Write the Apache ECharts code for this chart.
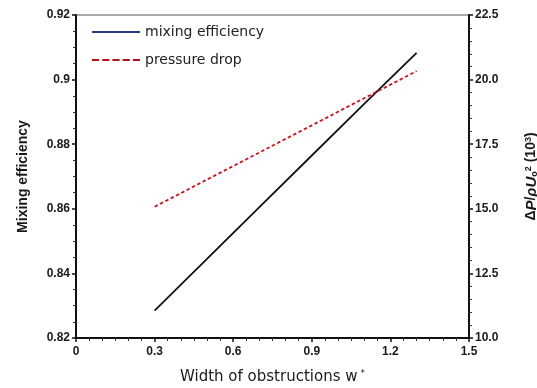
<!DOCTYPE html>
<html>
<head>
<meta charset="utf-8">
<script src="https://cdn.jsdelivr.net/npm/echarts@6/dist/echarts.min.js"></script>
<style>
  html, body { margin: 0; padding: 0; background: #fff; }
  #chart { width: 537px; height: 388px; }
</style>
</head>
<body>
<div id="chart"></div>
<script>
// Obstruction width w* (dimensionless)
const widths = [0.3, 0.5, 0.7, 0.9, 1.1, 1.3];
// Mixing efficiency (left axis)
const mixingEfficiency = [0.8285, 0.8445, 0.8605, 0.8765, 0.8925, 0.9083];
// Pressure drop ΔP/ρU0² ×10³ (right axis)
const pressureDrop = [15.08, 16.13, 17.18, 18.23, 19.28, 20.33];

const seriesNames = ['mixing efficiency', 'pressure drop'];

const FONT = '"Liberation Sans", Arial, sans-serif';
const WIDE = '"DejaVu Sans", Verdana, sans-serif';
const textDark = '#1a1a1a';

const chart = echarts.init(document.getElementById('chart'), null, { renderer: 'canvas' });

const axisCommon = {
  axisLine: { show: true, onZero: false, lineStyle: { color: '#111', width: 2 } },
  axisTick: { show: true, inside: false, length: 4, lineStyle: { color: '#111', width: 1.5 } },
  minorTick: { show: true, length: 3, lineStyle: { color: '#333', width: 1 } },
  splitLine: { show: false },
  axisLabel: { color: textDark, fontFamily: FONT, fontSize: 12, fontWeight: 'bold', margin: 6 }
};

chart.setOption({
  animation: false,
  backgroundColor: '#fff',
  grid: {
    left: 76, right: 68, top: 15, bottom: 50,
    outerBoundsMode: 'none',
    containLabel: false,
    show: true, borderColor: '#555', borderWidth: 1, backgroundColor: 'transparent'
  },
  legend: {
    orient: 'vertical',
    left: 87, top: 20,
    itemWidth: 48, itemHeight: 10, itemGap: 14,
    textStyle: { fontFamily: WIDE, fontSize: 14, color: '#222' },
    data: [
      { name: seriesNames[0], icon: 'path://M0,4 L48,4 L48,6 L0,6 Z', itemStyle: { color: '#24407f' } },
      { name: seriesNames[1], icon: 'path://M0,4 L7,4 L7,6 L0,6 Z M10,4 L17,4 L17,6 L10,6 Z M20,4 L27,4 L27,6 L20,6 Z M30,4 L37,4 L37,6 L30,6 Z M40,4 L47,4 L47,6 L40,6 Z', itemStyle: { color: '#b3121b' } }
    ]
  },
  xAxis: Object.assign({}, axisCommon, {
    type: 'value', min: 0, max: 1.5, interval: 0.3,
    minorTick: { show: true, splitNumber: 6, length: 3, lineStyle: { color: '#333', width: 1 } },
    axisLabel: Object.assign({}, axisCommon.axisLabel, { margin: 8 }),
    name: 'Width of obstructions w{sup|*}',
    nameLocation: 'middle', nameGap: 31,
    nameTextStyle: {
      fontFamily: WIDE, fontSize: 15, color: textDark,
      rich: { sup: { fontFamily: WIDE, fontSize: 9, color: textDark, verticalAlign: 'top', padding: [0, 0, 8, 3] } }
    }
  }),
  yAxis: [
    Object.assign({}, axisCommon, {
      type: 'value', min: 0.82, max: 0.92, interval: 0.02, position: 'left',
      minorTick: { show: true, splitNumber: 4, length: 3, lineStyle: { color: '#333', width: 1 } },
      axisLabel: Object.assign({}, axisCommon.axisLabel, {
        formatter: v => String(parseFloat(v.toFixed(2)))
      }),
      name: 'Mixing efficiency',
      nameLocation: 'middle', nameGap: 46, nameRotate: 90,
      nameTextStyle: { fontFamily: FONT, fontSize: 14, fontWeight: 'bold', color: textDark }
    }),
    Object.assign({}, axisCommon, {
      type: 'value', min: 10, max: 22.5, interval: 2.5, position: 'right',
      minorTick: { show: true, splitNumber: 5, length: 3, lineStyle: { color: '#333', width: 1 } },
      axisLabel: Object.assign({}, axisCommon.axisLabel, {
        formatter: v => v.toFixed(1)
      }),
      name: 'Δ{i|P}/{i|ρU}{sub|o}{sup|2} (10{sup|3})',
      nameLocation: 'middle', nameGap: 55, nameRotate: 90,
      nameTextStyle: {
        fontFamily: FONT, fontSize: 14, fontWeight: 'bold', color: textDark,
        rich: {
          i: { fontFamily: FONT, fontSize: 15, fontWeight: 'bold', fontStyle: 'italic', color: textDark },
          sub: { fontFamily: FONT, fontSize: 9, fontWeight: 'bold', color: textDark, verticalAlign: 'bottom', padding: [6, 0, 0, 0] },
          sup: { fontFamily: FONT, fontSize: 9, fontWeight: 'bold', color: textDark, verticalAlign: 'top', padding: [0, 0, 6, 0] }
        }
      }
    })
  ],
  series: [
    {
      name: seriesNames[0],
      type: 'line',
      yAxisIndex: 0,
      data: widths.map((w, i) => [w, mixingEfficiency[i]]),
      showSymbol: false,
      color: '#24407f',
      lineStyle: { color: '#101218', width: 1.8 }
    },
    {
      name: seriesNames[1],
      type: 'line',
      yAxisIndex: 1,
      data: widths.map((w, i) => [w, pressureDrop[i]]),
      showSymbol: false,
      color: '#b3121b',
      lineStyle: { color: '#c8161e', width: 1.8, type: [3.5, 2.5] }
    }
  ]
});
</script>
</body>
</html>
